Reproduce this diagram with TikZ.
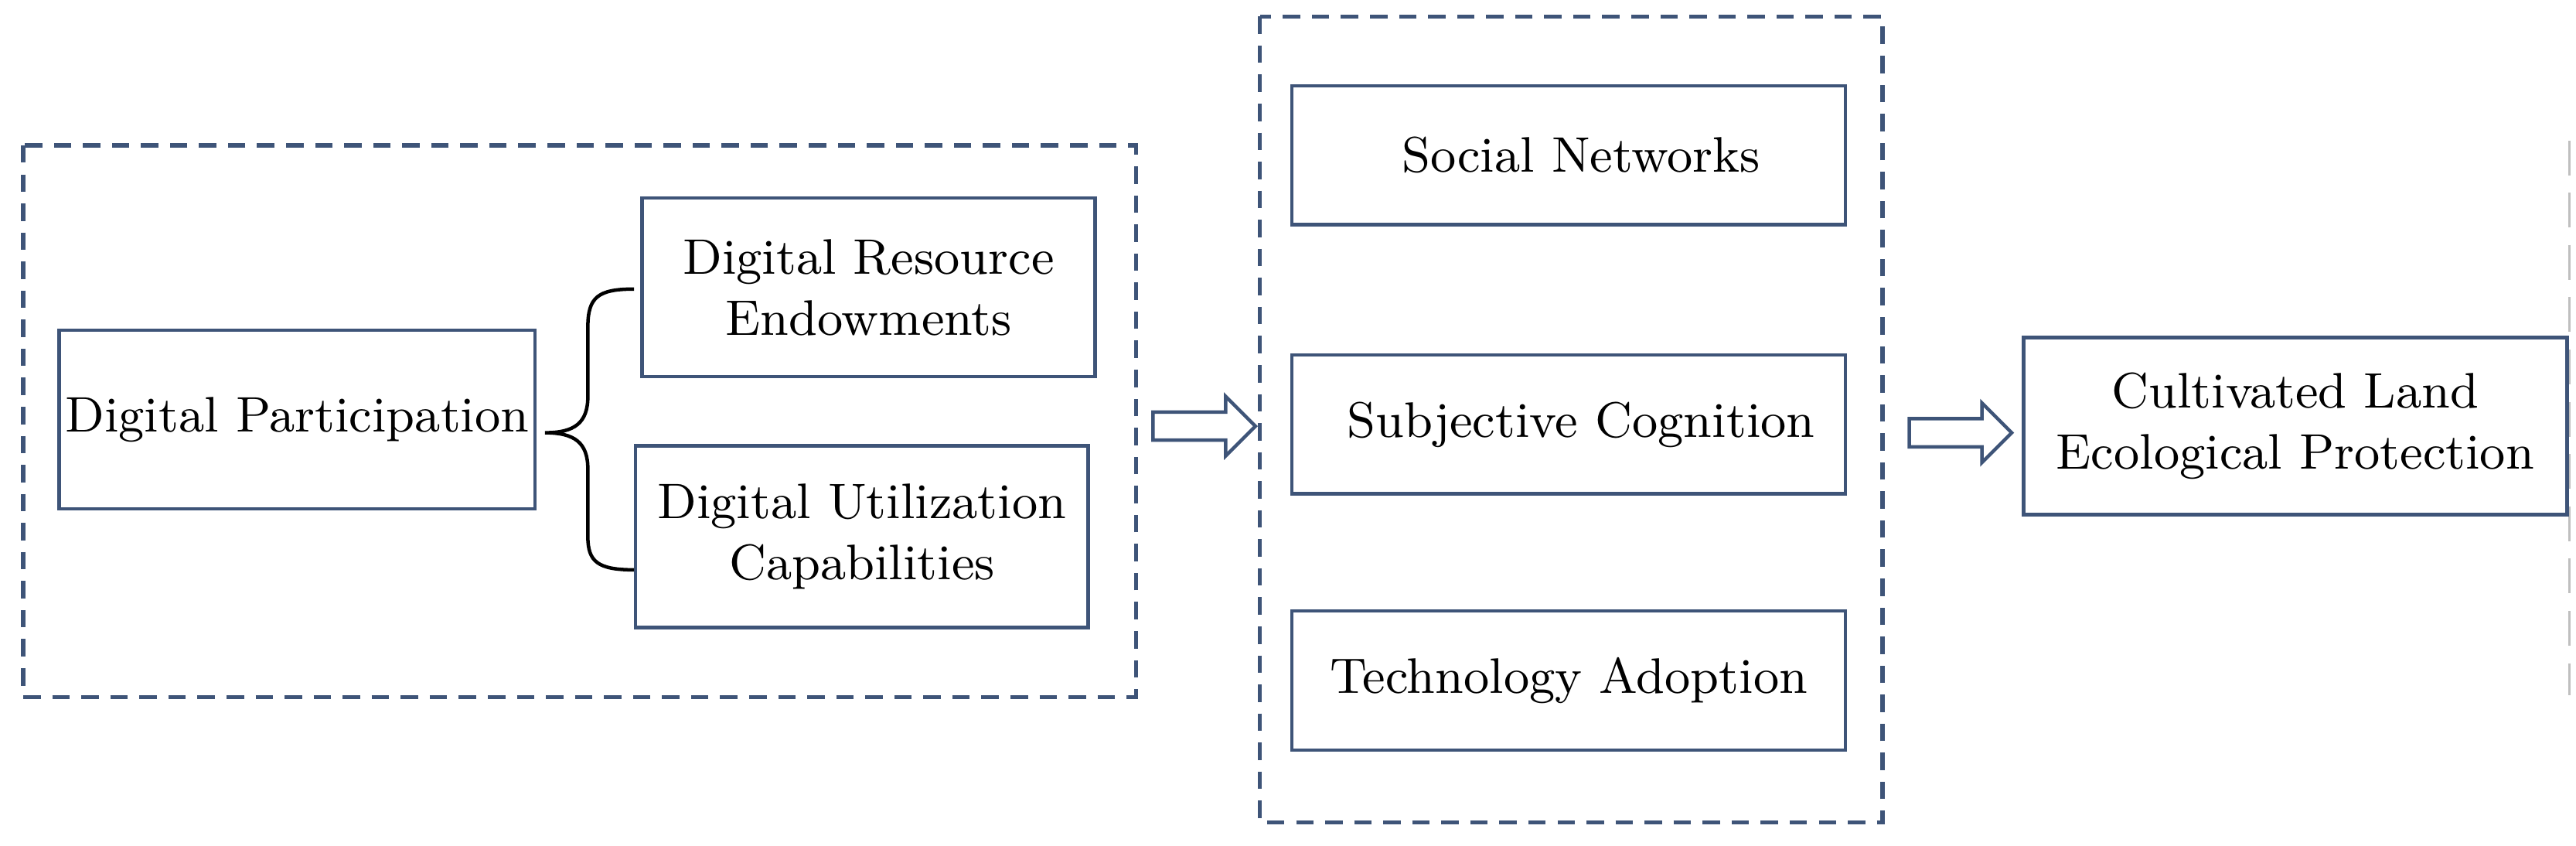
\documentclass[tikz,border=0pt]{standalone}
\usetikzlibrary{shapes.arrows}
\definecolor{bc}{RGB}{62,84,120}
\begin{document}
\begin{tikzpicture}[x=0.01cm,y=-0.01cm,
  box/.style={draw=bc,line width=0.6pt,align=center,inner sep=0pt,font=\fontsize{8.6}{10.5}\selectfont},
  grp/.style={draw=bc,line width=0.7pt,dash pattern=on 3pt off 2pt},
  barrow/.style={draw=bc,line width=0.6pt,single arrow,minimum height=0.62cm,minimum width=0.36cm,single arrow head extend=0.09cm,inner sep=0.07cm,shape border rotate=0}]
\useasboundingbox (0,0) rectangle (1560,512);
\draw[grp] (14,88) rectangle (688,422);
\draw[grp] (763,10) rectangle (1140,498);
\draw[gray!50,line width=0.5pt,dash pattern=on 6pt off 3pt] (1556,85) coordinate (e1) -- (1556,421) coordinate (e2);
\node[box,minimum width=2.88cm,minimum height=1.08cm] (dp) at (180,254) {Digital Participation};
\node[box,minimum width=2.74cm,minimum height=1.08cm] (dr) at (526,174) {Digital Resource\\Endowments};
\node[box,minimum width=2.74cm,minimum height=1.1cm] (du) at (522,325) {Digital Utilization\\Capabilities};
\coordinate (bt) at (384,175);
\coordinate (bb) at (384,345);
\coordinate (bm) at (330,262);
\draw[line width=0.6pt] (bt) .. controls (362,175) and (356,180) .. (356,198) -- (356,240)
  .. controls (356,256) and (348,262) .. (bm)
  .. controls (348,262) and (356,268) .. (356,284) -- (356,325)
  .. controls (356,340) and (362,345) .. (bb);
\node[barrow] (a1) at (725,258) {};
\node[box,minimum width=3.35cm,minimum height=0.84cm] (sn) at (950,94) {\hspace*{0.15cm}Social Networks};
\node[box,minimum width=3.35cm,minimum height=0.84cm] (sc) at (950,257) {\hspace*{0.15cm}Subjective Cognition};
\node[box,minimum width=3.35cm,minimum height=0.84cm] (ta) at (950,412) {Technology Adoption};
\node[barrow] (a2) at (1183,262) {};
\node[box,minimum width=3.29cm,minimum height=1.07cm] (cl) at (1390,258) {Cultivated Land\\Ecological Protection};
\end{tikzpicture}
\end{document}
